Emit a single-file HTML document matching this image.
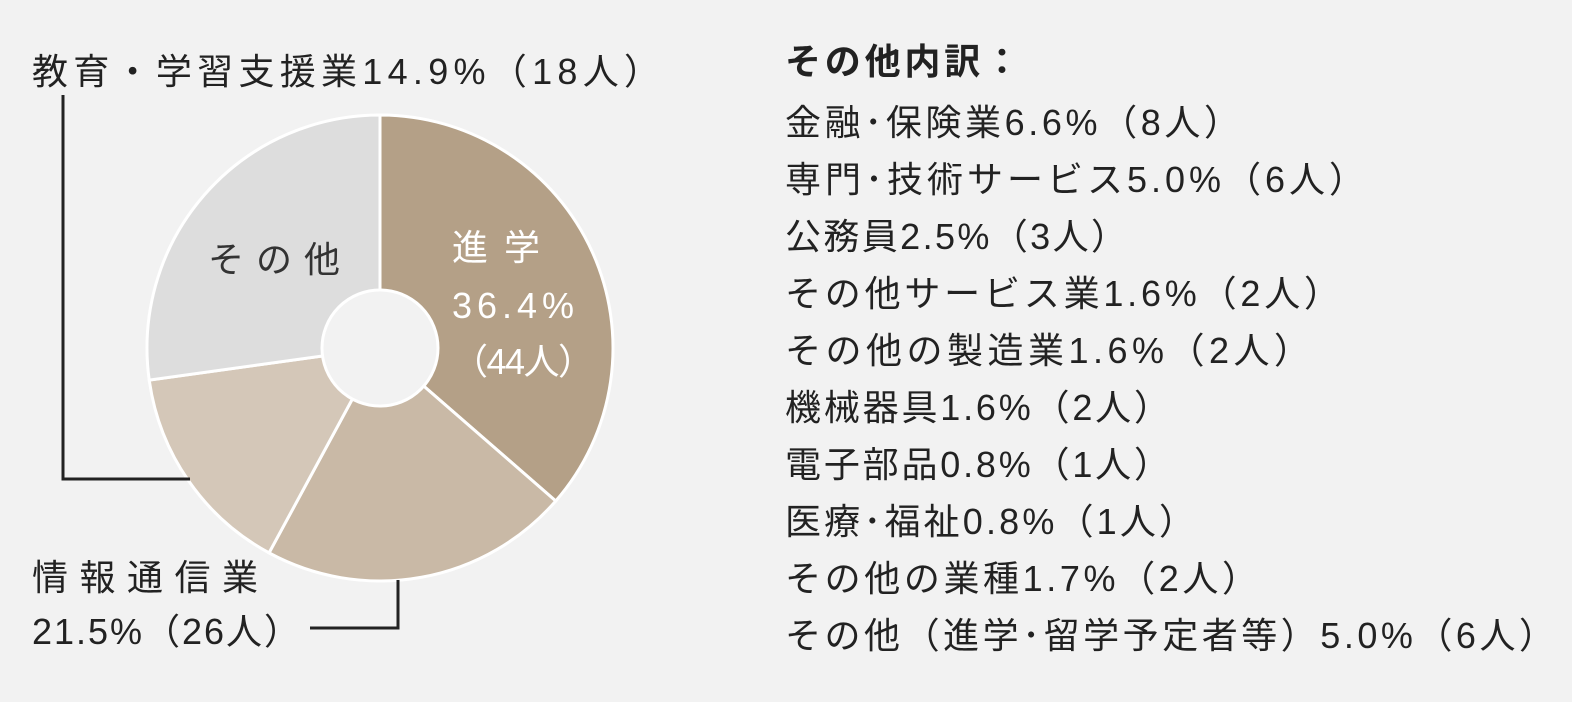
<!DOCTYPE html>
<html><head><meta charset="utf-8">
<style>
body{margin:0;background:#f2f2f2;}
svg{display:block;font-family:"Liberation Sans","Noto Sans CJK JP",sans-serif;}
</style></head>
<body>
<svg id="c" width="1572" height="702" viewBox="0 0 1572 702">
<rect width="1572" height="702" fill="#f2f2f2"/>
<g id="slices"></g>
<circle cx="380" cy="348" r="58" fill="#f2f2f2" stroke="#ffffff" stroke-width="3"/>
<g font-size="36" fill="#222" lengthAdjust="spacing">
<text x="452" y="260" fill="#fff" textLength="88">進学</text>
<text x="452" y="318" fill="#fff" textLength="122">36.4%</text>
<text x="452" y="374" fill="#fff" textLength="142">（44人）</text>
<text x="208" y="272" fill="#333" textLength="132">その他</text>
<text x="32" y="84" textLength="628">教育・学習支援業14.9%（18人）</text>
<text x="32" y="590" textLength="226">情報通信業</text>
<text x="32" y="644" textLength="268">21.5%（26人）</text>
</g>
<polyline points="63,95 63,479 190,479" fill="none" stroke="#222" stroke-width="3"/>
<polyline points="310,628 398,628 398,580" fill="none" stroke="#222" stroke-width="3"/>
<g font-size="36" fill="#222">
<text x="785" y="74" font-weight="bold" textLength="235">その他内訳：</text>
<text x="785" y="135" textLength="455">金融･保険業6.6%（8人）</text>
<text x="785" y="192" textLength="580">専門･技術サービス5.0%（6人）</text>
<text x="785" y="249" textLength="342">公務員2.5%（3人）</text>
<text x="785" y="306" textLength="555">その他サービス業1.6%（2人）</text>
<text x="785" y="363" textLength="525">その他の製造業1.6%（2人）</text>
<text x="785" y="420" textLength="385">機械器具1.6%（2人）</text>
<text x="785" y="477" textLength="385">電子部品0.8%（1人）</text>
<text x="785" y="534" textLength="410">医療･福祉0.8%（1人）</text>
<text x="785" y="591" textLength="473">その他の業種1.7%（2人）</text>
<text x="785" y="648" textLength="770">その他（進学･留学予定者等）5.0%（6人）</text>
</g>
</svg>
<script>
const categories=["進学","情報通信業","教育・学習支援業","その他"];
const values=[36.4,21.5,14.9,27.2];
const colors=["#b4a087","#c9b9a6","#d4c7b8","#dddddd"];
const cx=380,cy=348,R=233;
const g=document.getElementById('slices');
const total=values.reduce((a,b)=>a+b,0);
function pt(frac){const a=frac*2*Math.PI;return [cx+R*Math.sin(a),cy-R*Math.cos(a)];}
let acc=0;
values.forEach((v,i)=>{
  const s=pt(acc/total);acc+=v;const e=pt(acc/total);
  const large=v/total>0.5?1:0;
  const p=document.createElementNS('http://www.w3.org/2000/svg','path');
  p.setAttribute('d',`M${cx},${cy} L${s[0]},${s[1]} A${R},${R} 0 ${large} 1 ${e[0]},${e[1]} Z`);
  p.setAttribute('fill',colors[i]);
  p.setAttribute('stroke','#ffffff');
  p.setAttribute('stroke-width','3');
  
  
  g.appendChild(p);
});
</script>
</body></html>
